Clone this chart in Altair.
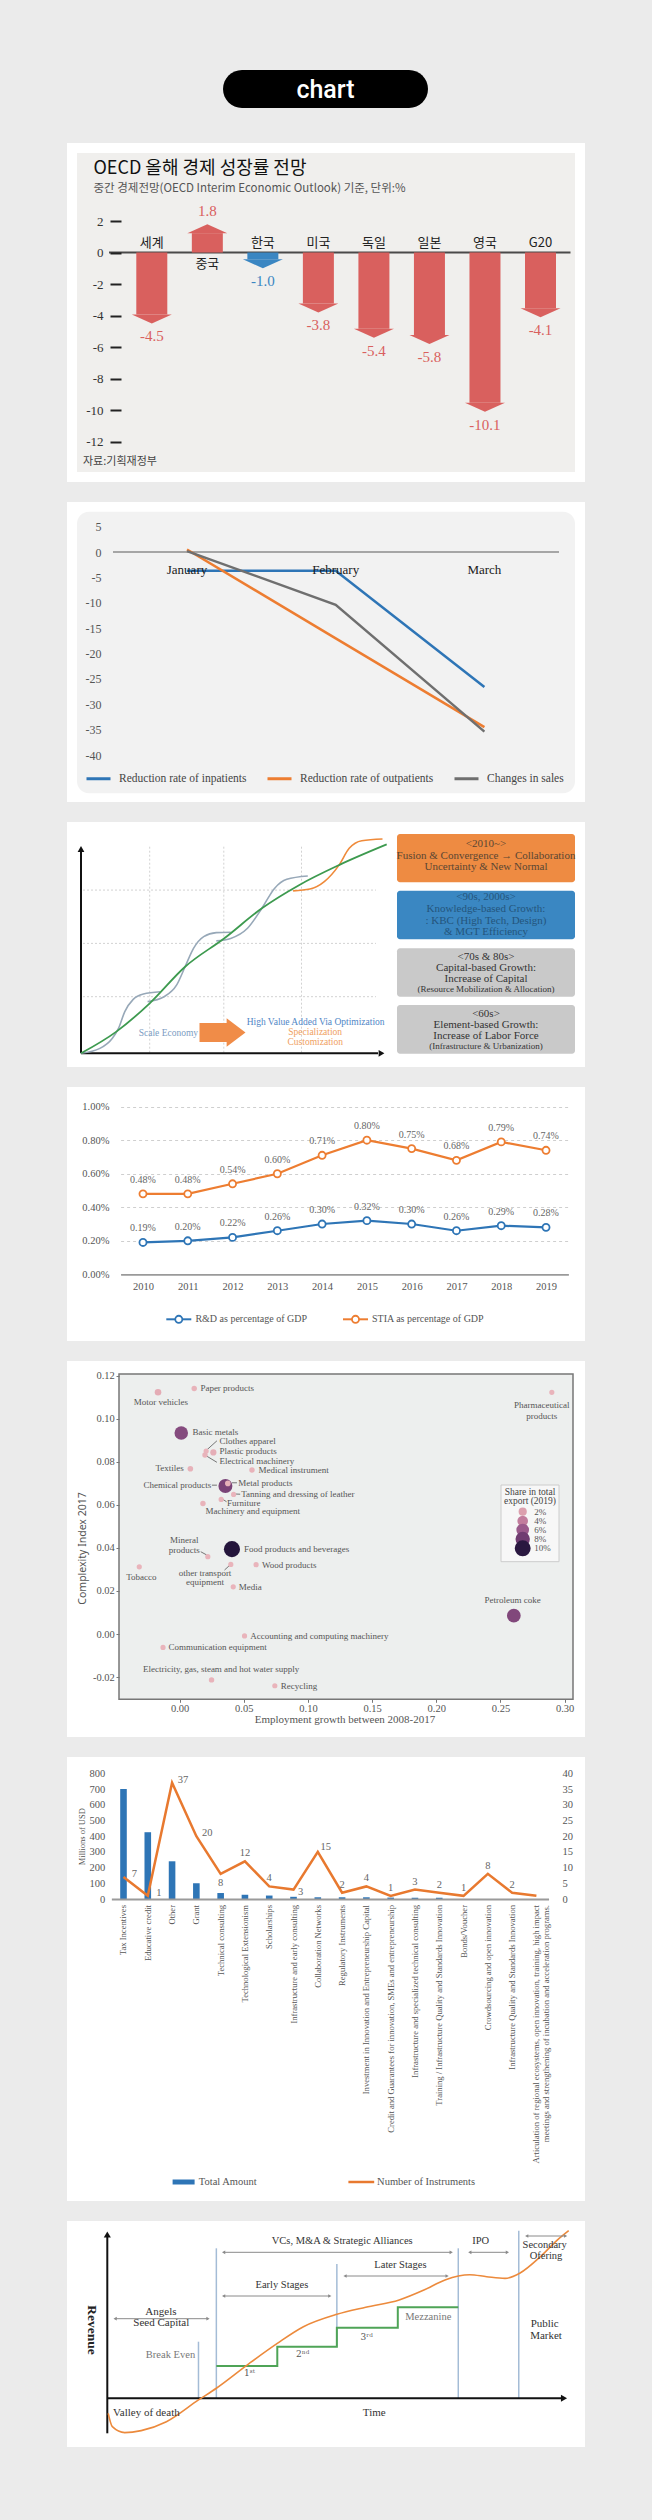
import altair as alt
import pandas as pd

# ---------------- data ----------------
# Panel 1: OECD growth outlook
p1_countries = ["세계", "중국", "한국", "미국", "독일", "일본", "영국", "G20"]
p1_growth = [-4.5, 1.8, -1.0, -3.8, -5.4, -5.8, -10.1, -4.1]
p1_ticks = [2, 0, -2, -4, -6, -8, -10, -12]

# Panel 2: hospital reductions
p2_months = ["January", "February", "March"]
p2_series = ["Reduction rate of inpatients", "Reduction rate of outpatients", "Changes in sales"]
p2_inpatients = [-3.7, -3.7, -26.6]
p2_outpatients = [0.5, -17.0, -34.5]
p2_sales = [0.2, -10.4, -35.4]
p2_ticks = [5, 0, -5, -10, -15, -20, -25, -30, -35, -40]

# Panel 3: growth paradigm diagram (notional 0-100 units)
p3_trend_x = [0, 11.8, 22.9, 34.7, 47.8, 60.3, 72.8, 86.0, 101.9]
p3_trend_y = [0, 10.5, 24.2, 41.9, 55.7, 70.2, 81.5, 91.1, 101.1]
p3_s1_x = [0, 6.3, 10.4, 12.5, 14.6, 17.4, 20.8, 26.4]
p3_s1_y = [0, 2.4, 7.2, 12.1, 20.2, 26.1, 28.7, 29.8]
p3_s2_x = [22.2, 27.7, 31.9, 34.7, 37.5, 40.9, 45.1, 49.9]
p3_s2_y = [25.0, 27.4, 33.1, 41.9, 50.8, 56.5, 58.4, 58.6]
p3_s3_x = [45.1, 49.9, 55.5, 60.3, 64.5, 68.6, 75.6]
p3_s3_y = [54.4, 55.6, 60.5, 70.2, 79.8, 84.2, 85.8]
p3_s4_x = [70.7, 76.3, 81.1, 86.0, 89.4, 93.6, 100.5]
p3_s4_y = [78.6, 79.5, 83.1, 91.1, 99.2, 102.9, 103.7]
p3_grid_x = [22.9, 47.6, 73.5]
p3_grid_y = [27.4, 53.2, 79.0]
p3_box_2010 = ["<2010~>", "Fusion & Convergence → Collaboration", "Uncertainty & New Normal"]
p3_box_90s = ["<90s, 2000s>", "Knowledge-based Growth:", ": KBC (High Tech, Design)", "& MGT Efficiency"]
p3_box_70s = ["<70s & 80s>", "Capital-based Growth:", "Increase of Capital", "(Resource Mobilization & Allocation)"]
p3_box_60s = ["<60s>", "Element-based Growth:", "Increase of Labor Force", "(Infrastructure & Urbanization)"]

# Panel 4: R&D / STIA
p4_years = [str(y) for y in range(2010, 2020)]
p4_series = ["R&D as percentage of GDP", "STIA as percentage of GDP"]
p4_rd = [0.19, 0.20, 0.22, 0.26, 0.30, 0.32, 0.30, 0.26, 0.29, 0.28]
p4_stia = [0.48, 0.48, 0.54, 0.60, 0.71, 0.80, 0.75, 0.68, 0.79, 0.74]
p4_ticks = [0, 0.2, 0.4, 0.6, 0.8, 1.0]

# Panel 5: complexity vs employment growth
p5_names = ["Motor vehicles", "Paper products", "Pharmaceutical products", "Basic metals",
            "Clothes apparel", "Plastic products", "Electrical machinery", "Textiles",
            "Medical instrument", "Chemical products", "Metal products",
            "Tanning and dressing of leather", "Furniture", "Machinery and equipment",
            "Mineral products", "Food products and beverages", "other transport equipment",
            "Wood products", "Tobacco", "Media", "Petroleum coke",
            "Accounting and computing machinery", "Communication equipment",
            "Electricity, gas, steam and hot water supply", "Recycling"]
p5_growth = [-0.0168, 0.0114, 0.290, 0.0013, 0.0207, 0.0263, 0.0198, 0.0084, 0.0564, 0.0357,
             0.0376, 0.0421, 0.0324, 0.0182, 0.0220, 0.0408, 0.0399, 0.0596, -0.0314, 0.0418,
             0.2604, 0.0506, -0.0129, 0.0249, 0.0742]
p5_complexity = [0.1122, 0.1140, 0.1122, 0.0933, 0.0849, 0.0843, 0.0831, 0.0767, 0.0761, 0.0687,
                 0.0699, 0.0648, 0.0625, 0.0606, 0.0359, 0.0394, 0.0323, 0.0322, 0.0312, 0.0219,
                 0.0085, -0.0009, -0.0062, -0.0213, -0.0240]
p5_share = [1.0, 0.4, 0.3, 7.0, 0.3, 0.8, 0.4, 0.5, 0.4, 7.5, 0.5, 0.3, 0.3, 0.4, 0.3, 10.2,
            0.3, 0.3, 0.3, 0.3, 7.2, 0.3, 0.3, 0.4, 0.3]
p5_lab_text = ["Motor vehicles", "Paper products", "Pharmaceutical", "products", "Basic metals",
               "Clothes apparel", "Plastic products", "Electrical machinery", "Textiles",
               "Medical instrument", "Chemical products", "Metal products",
               "Tanning and dressing of leather", "Furniture", "Machinery and equipment",
               "Mineral", "products", "Food products and beverages", "other transport",
               "equipment", "Wood products", "Tobacco", "Media", "Petroleum coke",
               "Accounting and computing machinery", "Communication equipment",
               "Electricity, gas, steam and hot water supply", "Recycling"]
p5_lab_x = [-0.0145, 0.0162, 0.2822, 0.2822, 0.0100, 0.0311, 0.0311, 0.0311, 0.0033, 0.0615,
            0.0246, 0.0457, 0.0480, 0.0369, 0.0570, 0.0036, 0.0036, 0.0502, 0.0198, 0.0198,
            0.0642, -0.0298, 0.0460, 0.2595, 0.0551, -0.0087, 0.0324, 0.0788]
p5_lab_y = [0.1078, 0.1140, 0.1063, 0.1013, 0.0937, 0.0897, 0.0848, 0.0801, 0.0770, 0.0761,
            0.0690, 0.0699, 0.0648, 0.0609, 0.0571, 0.0436, 0.0391, 0.0394, 0.0283, 0.0241,
            0.0322, 0.0266, 0.0219, 0.0158, -0.0008, -0.0062, -0.0161, -0.0240]
p5_lab_align = ["center", "left", "center", "center", "left", "left", "left", "left", "right",
                "left", "right", "left", "left", "left", "center", "center", "center", "left",
                "center", "center", "left", "center", "left", "center", "left", "left",
                "center", "left"]
p5_lead_x = [0.0211, 0.0211, 0.0252, 0.0408, 0.0324, 0.0165, 0.0350, 0.0430]
p5_lead_y = [0.0854, 0.0826, 0.0691, 0.0702, 0.0630, 0.0382, 0.0297, 0.0650]
p5_lead_x2 = [0.0291, 0.0291, 0.0291, 0.0447, 0.0366, 0.0211, 0.0392, 0.0472]
p5_lead_y2 = [0.0897, 0.0797, 0.0691, 0.0702, 0.0614, 0.0367, 0.0320, 0.0649]
p5_xticks = [0.0, 0.05, 0.10, 0.15, 0.20, 0.25, 0.30]
p5_yticks = [-0.02, 0.0, 0.02, 0.04, 0.06, 0.08, 0.10, 0.12]
p5_legend_values = [2, 4, 6, 8, 10]

# Panel 6: instruments
p6_instruments = ["Tax Incentives", "Educative credit", "Other", "Grant", "Technical consulting",
                  "Technological Extensionism", "Scholarships", "Infrastructure and early consulting",
                  "Collaboration Networks", "Regulatory Instruments",
                  "Investment in Innovation and Entrepreneurship Capital",
                  "Credit and Guarantees for innovation, SMEs and entrepreneurship",
                  "Infrastructure and specialized technical consulting",
                  "Training / Infrastructure Quality and Standards Innovation", "Bonds/Voucher",
                  "Crowdsourcing and open innovation", "Infrastructure Quality and Standards Innovation",
                  "Articulation of regional ecosystems, open innovation, training, high impact meetings and strengthening of incubation and acceleration programs."]
p6_amount = [700, 425, 240, 100, 38, 27, 22, 14, 11, 11, 11, 9, 8, 8, 0, 0, 0, 0]
p6_count = [7, 1, 37, 20, 8, 12, 4, 3, 15, 2, 4, 1, 3, 2, 1, 8, 2, 1]
p6_label_pos = ["r", "r", "r", "r", "b", "a", "a", "rb", "ra", "a", "a", "a", "a", "a", "a", "a", "a", "none"]
p6_left_ticks = list(range(0, 801, 100))
p6_right_ticks = list(range(0, 41, 5))

# Panel 7: funding stages diagram (notional 0-100 units)
p7_curve_x = [0.2, 1.1, 3.8, 7.4, 12.9, 19.9, 23.8, 31.0, 37.1, 42.8, 50.1, 56.4, 63.7, 69.1,
              73.7, 76.6, 79.1, 82.8, 86.8, 90.0, 94.5, 98.2, 100.7]
p7_curve_y = [-9.1, -17.2, -20.8, -19.6, -14.2, -1.0, 6.1, 21.2, 33.3, 43.4, 50.9, 55.2, 59.6,
              65.6, 71.7, 74.1, 74.9, 73.7, 72.7, 75.8, 85.8, 95.9, 101.6]
p7_step_x = [23.8, 37.1, 50.1, 63.4, 76.6]
p7_step_y = [19.6, 31.3, 42.8, 55.2, 55.2]
p7_vline_x = [19.9, 23.8, 50.1, 76.6, 89.8]
p7_vline_lo = [0, 0, 31.3, 0, 0]
p7_vline_hi = [34.3, 90.9, 81.4, 90.9, 101.6]

# ---------------- helpers ----------------
W = 518
SERIF = "Liberation Serif"
KR = "Noto Sans CJK KR"
SANS = "Noto Sans"
ONE = pd.DataFrame({"k": [0]})
CARD = alt.ViewBackground(fill="white", strokeWidth=0)


def box(x0, x1, y0, y1, fill, radius=0, stroke=None, sw=0):
    kw = dict(fill=fill, cornerRadius=radius, opacity=1)
    if stroke:
        kw.update(stroke=stroke, strokeWidth=sw)
    return alt.Chart(ONE).mark_rect(**kw).encode(
        x=alt.value(x0), x2=alt.value(x1), y=alt.value(y0), y2=alt.value(y1))


def txt(s, x, y, size=11, color="#333", font=SERIF, align="center", baseline="middle",
        weight="normal", angle=0):
    kw = dict(text=s, fontSize=size, color=color, font=font, align=align,
              baseline=baseline, fontWeight=weight)
    if angle:
        kw["angle"] = angle
    return alt.Chart(ONE).mark_text(**kw).encode(x=alt.value(x), y=alt.value(y))


def seg(x0, y0, x1, y1, color="#888", width=1.0):
    return alt.Chart(ONE).mark_rule(color=color, strokeWidth=width).encode(
        x=alt.value(x0), y=alt.value(y0), x2=alt.value(x1), y2=alt.value(y1))


def head(x, y, shape, size, color):
    return alt.Chart(ONE).mark_point(shape=shape, size=size, filled=True, color=color,
                                     opacity=1, strokeWidth=0).encode(
        x=alt.value(x), y=alt.value(y))


def darrow(x0, x1, y, color="#8a8a8a"):
    return [seg(x0 + 2, y, x1 - 2, y, color, 1),
            head(x0 + 2, y, "triangle-left", 14, color),
            head(x1 - 2, y, "triangle-right", 14, color)]


def lines_df(pairs):
    frames = []
    for cid, xs, ys in pairs:
        frames.append(pd.DataFrame({"x": xs, "y": ys, "c": cid, "i": list(range(len(xs)))}))
    return pd.concat(frames, ignore_index=True)


def panel(layers, height):
    return alt.layer(*layers).resolve_scale(x="independent", y="independent").properties(
        width=W, height=height, view=CARD)


# ---------------- header pill ----------------
pill = alt.layer(
    box(156, 361, 0, 38, "#000000", radius=19),
    txt("chart", 258.5, 19.5, size=25, color="white", font="Roboto", weight=500),
).properties(width=W, height=53, view=alt.ViewBackground(fill="#ebebeb", strokeWidth=0))

# ---------------- panel 1 ----------------
RED1, BLUE1 = "#d9605e", "#3a86c2"
HEAD1 = 0.571
df1 = pd.DataFrame({"country": p1_countries, "v": p1_growth})
df1["end"] = [v - HEAD1 if v > 0 else v + HEAD1 for v in p1_growth]
df1["dir"] = ["up" if v > 0 else "down" for v in p1_growth]
df1["grp"] = ["kr" if c == "한국" else "other" for c in p1_countries]
df1["lab"] = [f"{v:.1f}" for v in p1_growth]
x1 = alt.X("country:N", sort=p1_countries, axis=None,
           scale=alt.Scale(type="point", domain=p1_countries, range=[84.8, 473.5], padding=0))
y1s = alt.Scale(domain=[-12, 2], range=[298.7, 78], nice=False, zero=False)
c1 = alt.Color("grp:N", scale=alt.Scale(domain=["other", "kr"], range=[RED1, BLUE1]), legend=None)
ax1 = alt.Axis(orient="left", offset=-54, values=p1_ticks, domain=False, grid=False, ticks=True,
               tickSize=11, tickWidth=2, tickColor="#222", labelFont=SERIF, labelFontSize=13,
               labelColor="#333", labelPadding=7, title=None, zindex=1,
               labelExpr="'' + datum.value")
zero1 = alt.Chart(ONE).transform_calculate(z="0").mark_rule(color="#4a4a4a", strokeWidth=2).encode(
    y=alt.Y("z:Q", scale=y1s, axis=None), x=alt.value(42), x2=alt.value(503.5))
body1 = alt.Chart(df1).transform_calculate(z="0").mark_bar(size=31).encode(
    x=x1, y=alt.Y("end:Q", scale=y1s, axis=ax1), y2="z:Q", color=c1)
DOWN = "M-1,0L1,0L0,0.45Z"
UP = "M-1,0L1,0L0,-0.45Z"
heads1 = alt.Chart(df1).mark_point(filled=True, size=1600, opacity=1, strokeWidth=0).encode(
    x=x1, y=alt.Y("end:Q", scale=y1s, axis=None),
    shape=alt.Shape("dir:N", scale=alt.Scale(domain=["down", "up"], range=[DOWN, UP]), legend=None),
    color=c1)
vneg1 = alt.Chart(df1).transform_filter("datum.v < 0").mark_text(
    dy=13, font=SERIF, fontSize=15, baseline="middle").encode(
    x=x1, y=alt.Y("v:Q", scale=y1s, axis=None), text="lab:N", color=c1)
vpos1 = alt.Chart(df1).transform_filter("datum.v > 0").mark_text(
    dy=-13, font=SERIF, fontSize=15, baseline="middle").encode(
    x=x1, y=alt.Y("v:Q", scale=y1s, axis=None), text="lab:N", color=c1)
cneg1 = alt.Chart(df1).transform_filter("datum.v < 0").transform_calculate(z="0").mark_text(
    dy=-10, font=KR, fontSize=13, color="#222", baseline="middle").encode(
    x=x1, y=alt.Y("z:Q", scale=y1s, axis=None), text="country:N")
cpos1 = alt.Chart(df1).transform_filter("datum.v > 0").transform_calculate(z="0").mark_text(
    dy=11, font=KR, fontSize=13, color="#222", baseline="middle").encode(
    x=x1, y=alt.Y("z:Q", scale=y1s, axis=None), text="country:N")
p1 = panel([
    box(10, 508, 10, 329, "#f0efed"),
    zero1, body1, heads1, vneg1, vpos1, cneg1, cpos1,
    txt("OECD 올해 경제 성장률 전망", 26.5, 25.5, size=18, color="#111", font=KR, align="left"),
    txt("중간 경제전망(OECD Interim Economic Outlook) 기준, 단위:%", 26.5, 45.7, size=11.5,
        color="#555", font=KR, align="left"),
    txt("자료:기획재정부", 16, 318.7, size=11, color="#444", font=KR, align="left"),
], 339)

# ---------------- panel 2 ----------------
BLUE2, ORANGE2, GRAY2 = "#2e75b6", "#ed7d31", "#6f6f6f"
df2 = pd.DataFrame({
    "month": p2_months * 3,
    "series": [p2_series[0]] * 3 + [p2_series[1]] * 3 + [p2_series[2]] * 3,
    "v": p2_inpatients + p2_outpatients + p2_sales})
x2s = alt.Scale(type="point", domain=p2_months, range=[120, 417.4], padding=0)
y2s = alt.Scale(domain=[-40, 5], range=[253, 24.7], nice=False, zero=False)
ax2 = alt.Axis(orient="left", offset=-38, values=p2_ticks, domain=False, ticks=False, tickSize=0,
               grid=False, labelPadding=4, labelFont=SERIF, labelFontSize=12, labelColor="#555",
               labelExpr="'' + datum.value", title=None, zindex=1)
leg2 = alt.Legend(orient="none", legendX=18, legendY=263, direction="horizontal", title=None,
                  symbolType="stroke", symbolSize=576, symbolStrokeWidth=3, labelFont=SERIF,
                  labelFontSize=11.5, labelColor="#444", columnPadding=14, labelOffset=7, zindex=1)
zero2 = alt.Chart(ONE).transform_calculate(z="0").mark_rule(color="#8c8c8c", strokeWidth=1.5).encode(
    y=alt.Y("z:Q", scale=y2s, axis=None), x=alt.value(46), x2=alt.value(492))
lines2 = alt.Chart(df2).mark_line(strokeWidth=2.5).encode(
    x=alt.X("month:N", sort=p2_months, scale=x2s, axis=None),
    y=alt.Y("v:Q", scale=y2s, axis=ax2),
    color=alt.Color("series:N", sort=p2_series,
                    scale=alt.Scale(domain=p2_series, range=[BLUE2, ORANGE2, GRAY2]), legend=leg2))
months2 = alt.Chart(pd.DataFrame({"month": p2_months})).mark_text(
    font=SERIF, fontSize=13, color="#1a1a1a", baseline="middle").encode(
    x=alt.X("month:N", sort=p2_months, scale=x2s, axis=None), y=alt.value(68), text="month:N")
p2 = panel([
    box(10, 508, 9.7, 291.3, "#f2f2f2", radius=12),
    zero2, lines2, months2,
], 300)

# ---------------- panel 3 ----------------
x3s = alt.Scale(domain=[0, 100], range=[14, 314], nice=False, zero=False)
y3s = alt.Scale(domain=[0, 100], range=[231.3, 24.7], nice=False, zero=False)
X3 = alt.X("x:Q", scale=x3s, axis=None)
Y3 = alt.Y("y:Q", scale=y3s, axis=None)
gridv3 = alt.Chart(pd.DataFrame({"x": p3_grid_x})).mark_rule(
    color="#d2d2d2", strokeDash=[2, 2], strokeWidth=1).encode(x=X3, y=alt.value(24.7), y2=alt.value(231.3))
gridh3 = alt.Chart(pd.DataFrame({"y": p3_grid_y})).mark_rule(
    color="#d2d2d2", strokeDash=[2, 2], strokeWidth=1).encode(y=Y3, x=alt.value(16), x2=alt.value(309))
waves3 = alt.Chart(lines_df([("s1", p3_s1_x, p3_s1_y), ("s2", p3_s2_x, p3_s2_y),
                             ("s3", p3_s3_x, p3_s3_y)])).mark_line(
    color="#97a8b8", strokeWidth=1.6, interpolate="monotone").encode(
    x=X3, y=Y3, detail="c:N", order="i:Q")
orange3 = alt.Chart(lines_df([("s4", p3_s4_x, p3_s4_y)])).mark_line(
    color="#ef8a3a", strokeWidth=1.6, interpolate="monotone").encode(x=X3, y=Y3, order="i:Q")
green3 = alt.Chart(lines_df([("g", p3_trend_x, p3_trend_y)])).mark_line(
    color="#3d9a4f", strokeWidth=1.8, interpolate="monotone").encode(x=X3, y=Y3, order="i:Q")
ARROW = "M-1,-0.41L0.18,-0.41L0.18,-0.62L1,0L0.18,0.62L0.18,0.41L-1,0.41Z"
layers3 = [gridv3, gridh3,
           seg(14, 231.3, 14, 29, "#111", 2), head(14, 27, "triangle-up", 45, "#111"),
           seg(14, 231.3, 311, 231.3, "#111", 2), head(314.5, 231.3, "triangle-right", 45, "#111"),
           waves3, orange3, green3,
           head(155.5, 210.5, ARROW, 2116, "#f08c48"),
           txt("Scale Economy", 101.4, 210.7, 9.5, "#7b9cc2"),
           txt("High Value Added Via Optimization", 248.6, 200.3, 9.5, "#4f86c6"),
           txt("Specialization", 248.2, 210.3, 9.5, "#f0a060"),
           txt("Customization", 248.2, 220, 9.5, "#f0a060"),
           box(330, 508, 12, 60.3, "#ee8b42", radius=3),
           box(330, 508, 68.7, 117.3, "#3a87c2", radius=3),
           box(330, 508, 126.3, 174.7, "#c9c9c9", radius=3),
           box(330, 508, 183, 231.7, "#c9c9c9", radius=3)]
for s, yy in zip(p3_box_2010, [22.3, 33.7, 44.7]):
    layers3.append(txt(s, 419, yy, 11, "#5a4632"))
for s, yy in zip(p3_box_90s, [75.3, 87.3, 99, 109.7]):
    layers3.append(txt(s, 419, yy, 11, "#24557c"))
for s, yy, sz in zip(p3_box_70s, [134.7, 145.7, 157, 167], [11, 11, 11, 9]):
    layers3.append(txt(s, 419, yy, sz, "#333"))
for s, yy, sz in zip(p3_box_60s, [192, 203, 214, 223.7], [11, 11, 11, 9]):
    layers3.append(txt(s, 419, yy, sz, "#333"))
p3 = panel(layers3, 245)

# ---------------- panel 4 ----------------
BLUE4, ORANGE4 = "#2e75b6", "#ed7d31"
df4 = pd.DataFrame({"year": p4_years * 2,
                    "series": [p4_series[0]] * 10 + [p4_series[1]] * 10,
                    "v": p4_rd + p4_stia})
df4["lab"] = [f"{v:.2f}%" for v in df4["v"]]
x4s = alt.Scale(type="point", domain=p4_years, range=[53.6, 501.4], padding=0.5)
y4s = alt.Scale(domain=[0, 1.0], range=[187.3, 19.7], nice=False, zero=False)
ax4x = alt.Axis(orient="bottom", offset=-66.7, domainColor="#9a9a9a", domainWidth=1.8, ticks=False,
                tickSize=0, labelPadding=7, labelFont=SERIF, labelFontSize=10.5, labelColor="#555",
                title=None, grid=False, zindex=1, labelAngle=0)
ax4y = alt.Axis(orient="left", offset=-53.6, values=p4_ticks, grid=True, gridDash=[3, 3],
                gridColor="#cfcfcf", domain=False, ticks=False, tickSize=0, labelPadding=11.7,
                labelExpr="format(datum.value, '.2f') + '%'", labelFont=SERIF, labelFontSize=10.5,
                labelColor="#555", title=None)
c4 = alt.Scale(domain=p4_series, range=[BLUE4, ORANGE4])
lines4 = alt.Chart(df4).mark_line(strokeWidth=2.2).encode(
    x=alt.X("year:N", sort=p4_years, scale=x4s, axis=ax4x),
    y=alt.Y("v:Q", scale=y4s, axis=ax4y),
    color=alt.Color("series:N", scale=c4, legend=None))
pts4 = alt.Chart(df4).mark_point(filled=True, fill="white", size=50, strokeWidth=1.8, opacity=1).encode(
    x=alt.X("year:N", sort=p4_years, scale=x4s, axis=None),
    y=alt.Y("v:Q", scale=y4s, axis=None),
    stroke=alt.Stroke("series:N", scale=c4, legend=None))
labs4 = alt.Chart(df4).mark_text(dy=-14, font=SERIF, fontSize=10, color="#666").encode(
    x=alt.X("year:N", sort=p4_years, scale=x4s, axis=None),
    y=alt.Y("v:Q", scale=y4s, axis=None), text="lab:N")


def hollow(x, y, color):
    return alt.Chart(ONE).mark_point(filled=True, fill="white", stroke=color, strokeWidth=1.8,
                                     size=50, opacity=1).encode(x=alt.value(x), y=alt.value(y))


p4 = panel([
    lines4, pts4, labs4,
    seg(99.3, 232.3, 124.3, 232.3, BLUE4, 2), hollow(111.8, 232.3, BLUE4),
    txt(p4_series[0], 128.4, 232.3, 10, "#555", align="left"),
    seg(276, 232.3, 301, 232.3, ORANGE4, 2), hollow(288.5, 232.3, ORANGE4),
    txt(p4_series[1], 305, 232.3, 10, "#555", align="left"),
], 254)

# ---------------- panel 5 ----------------
x5s = alt.Scale(domain=[-0.0472, 0.3065], range=[52, 506], nice=False, zero=False)
y5s = alt.Scale(domain=[-0.0303, 0.1207], range=[338.3, 13], nice=False, zero=False)
size5 = alt.Scale(domain=[0, 10], range=[20, 254])
color5 = alt.Scale(domain=[0, 2, 4, 6, 8, 10],
                   range=["#ebb8bd", "#dca0ae", "#c27d9d", "#9a5a8b", "#703c71", "#2a1840"])
df5 = pd.DataFrame({"name": p5_names, "g": p5_growth, "c": p5_complexity, "share": p5_share})
lab5 = pd.DataFrame({"t": p5_lab_text, "g": p5_lab_x, "c": p5_lab_y, "al": p5_lab_align})
lead5 = pd.DataFrame({"g": p5_lead_x, "c": p5_lead_y, "g2": p5_lead_x2, "c2": p5_lead_y2})
ax5x = alt.Axis(orient="bottom", offset=-37.7, values=p5_xticks, format=".2f", domain=False,
                ticks=True, tickSize=3, tickColor="#777", grid=False, labelPadding=1,
                labelFont=SERIF, labelFontSize=10.5, labelColor="#555", title=None, zindex=1)
ax5y = alt.Axis(orient="left", offset=-52, values=p5_yticks, format=".2f", domain=False,
                ticks=True, tickSize=3, tickColor="#777", grid=False, labelPadding=1.7,
                labelExpr="replace(datum.label, '\u2212', '-')",
                labelFont=SERIF, labelFontSize=10.5, labelColor="#555", title=None, zindex=1)
pts5 = alt.Chart(df5).mark_circle(opacity=1).encode(
    x=alt.X("g:Q", scale=x5s, axis=ax5x),
    y=alt.Y("c:Q", scale=y5s, axis=ax5y),
    size=alt.Size("share:Q", scale=size5, legend=None),
    color=alt.Color("share:Q", scale=color5, legend=None),
    order=alt.Order("share:Q", sort="descending"))
leads5 = alt.Chart(lead5).mark_rule(color="#555", strokeWidth=0.8).encode(
    x=alt.X("g:Q", scale=x5s, axis=None), y=alt.Y("c:Q", scale=y5s, axis=None),
    x2="g2:Q", y2="c2:Q")
labels5 = []
for al in ["left", "right", "center"]:
    labels5.append(alt.Chart(lab5).transform_filter(f"datum.al == '{al}'").mark_text(
        align=al, baseline="middle", font=SERIF, fontSize=9, color="#555").encode(
        x=alt.X("g:Q", scale=x5s, axis=None), y=alt.Y("c:Q", scale=y5s, axis=None), text="t:N"))
legend5 = [box(434, 492, 124, 200.7, "#f7f7f7", stroke="#cccccc", sw=1),
           txt("Share in total", 463, 131.3, 9.5, "#444"),
           txt("export (2019)", 463, 140.3, 9.5, "#444")]
for v, yy in zip(p5_legend_values, [150.7, 160, 169, 178, 187.3]):
    legend5.append(alt.Chart(pd.DataFrame({"share": [v]})).mark_circle(opacity=1).encode(
        x=alt.value(455.7), y=alt.value(yy),
        size=alt.Size("share:Q", scale=size5, legend=None),
        color=alt.Color("share:Q", scale=color5, legend=None)))
    legend5.append(txt(f"{v}%", 467.3, yy, 9, "#555", align="left"))
p5 = panel([
    box(52, 506, 13, 338.3, "#edefee", stroke="#777777", sw=1.5),
    leads5, pts5, *labels5, *legend5,
    txt("Employment growth between 2008-2017", 278, 359, 11, "#555"),
    txt("Complexity Index 2017", 16, 187.5, 10.5, "#555", font=SANS, angle=270),
], 376)

# ---------------- panel 6 ----------------
BLUE6, ORANGE6 = "#2e75b6", "#e8792f"
df6 = pd.DataFrame({"inst": p6_instruments, "amount": p6_amount, "n": p6_count, "pos": p6_label_pos})
x6s = alt.Scale(type="point", domain=p6_instruments, range=[44.35, 481.55], padding=0.5)
y6L = alt.Scale(domain=[0, 800], range=[142, 16.3], nice=False, zero=False)
y6R = alt.Scale(domain=[0, 40], range=[142, 16.3], nice=False, zero=False)
ax6x = alt.Axis(orient="bottom", offset=-302, domainColor="#9a9a9a", domainWidth=2, ticks=False,
                tickSize=0, labels=False, title=None, grid=False, zindex=1)
ax6l = alt.Axis(orient="left", offset=-41.8, values=p6_left_ticks, domain=False, ticks=False,
                tickSize=0, grid=False, labelPadding=4, labelFont=SERIF, labelFontSize=10.5,
                labelColor="#555", title=None, zindex=1)
ax6r = alt.Axis(orient="right", offset=-27, values=p6_right_ticks, domain=False, ticks=False,
                tickSize=0, grid=False, labelPadding=4, labelFont=SERIF, labelFontSize=10.5,
                labelColor="#555", title=None, zindex=1)
X6 = alt.X("inst:N", sort=p6_instruments, scale=x6s, axis=None)
bars6 = alt.Chart(df6).mark_bar(size=6.6, color=BLUE6).encode(
    x=alt.X("inst:N", sort=p6_instruments, scale=x6s, axis=ax6x),
    y=alt.Y("amount:Q", scale=y6L, axis=ax6l))
line6 = alt.Chart(df6).mark_line(color=ORANGE6, strokeWidth=2.5).encode(
    x=X6, y=alt.Y("n:Q", scale=y6R, axis=ax6r))
offs6 = {"r": (11, -3), "a": (0, -8), "b": (0, 9), "rb": (7, 2), "ra": (8, -5)}
labels6 = []
for k, (ddx, ddy) in offs6.items():
    labels6.append(alt.Chart(df6).transform_filter(f"datum.pos == '{k}'").mark_text(
        dx=ddx, dy=ddy, font=SERIF, fontSize=10.5, color="#666", baseline="middle").encode(
        x=X6, y=alt.Y("n:Q", scale=y6R, axis=None), text="n:Q"))
xlab6 = alt.Chart(df6).transform_calculate(
    t="indexof(datum.inst, ' meetings') > 0 ? [substring(datum.inst, 0, indexof(datum.inst, ' meetings')), substring(datum.inst, indexof(datum.inst, ' meetings') + 1)] : datum.inst"
).mark_text(angle=270, align="right", baseline="middle", font=SERIF, fontSize=8.6,
            color="#555", lineHeight=9.5).encode(x=X6, y=alt.value(148), text="t:N")
p6 = panel([
    bars6, line6, *labels6, xlab6,
    txt("Millions of USD", 14.9, 79.7, 8.5, "#555", angle=270),
    box(105.6, 127.6, 422.5, 427.5, BLUE6),
    txt("Total Amount", 131.8, 425, 10.5, "#555", align="left"),
    seg(281.4, 425, 307.2, 425, ORANGE6, 2.5),
    txt("Number of Instruments", 310.1, 425, 10.5, "#555", align="left"),
], 444)

# ---------------- panel 7 ----------------
x7s = alt.Scale(domain=[0, 100], range=[40.3, 498.5], nice=False, zero=False)
y7s = alt.Scale(domain=[0, 100], range=[177.3, 12.3], nice=False, zero=False)
X7 = alt.X("x:Q", scale=x7s, axis=None)
Y7 = alt.Y("y:Q", scale=y7s, axis=None)
vl7 = alt.Chart(pd.DataFrame({"x": p7_vline_x, "y": p7_vline_lo, "y2": p7_vline_hi})).mark_rule(
    color="#a4bcd6", strokeWidth=1.5).encode(x=X7, y=Y7, y2="y2:Q")
step7 = alt.Chart(lines_df([("st", p7_step_x, p7_step_y)])).mark_line(
    color="#4fa457", strokeWidth=2, interpolate="step-after").encode(x=X7, y=Y7, order="i:Q")
curve7 = alt.Chart(lines_df([("cv", p7_curve_x, p7_curve_y)])).mark_line(
    color="#ec8a3c", strokeWidth=1.6, interpolate="monotone").encode(x=X7, y=Y7, order="i:Q")
layers7 = [vl7, step7,
           seg(40.3, 212.3, 40.3, 16, "#111", 2), head(40.3, 13.5, "triangle-up", 50, "#111"),
           seg(40.3, 177.3, 494, 177.3, "#111", 2), head(497, 177.3, "triangle-right", 50, "#111"),
           curve7]
layers7 += darrow(46.1, 143, 97.7) + darrow(154.6, 386.2, 31.3) + darrow(400.8, 442.4, 31.3)
layers7 += darrow(457.7, 500.6, 15) + darrow(154.6, 264.8, 75) + darrow(276, 382.1, 55)
layers7 += [
    txt("Angels", 93.9, 91.3, 11, "#333"),
    txt("Seed Capital", 94.3, 102.3, 11, "#333"),
    txt("Break Even", 103.5, 134.3, 10.5, "#777"),
    txt("VCs, M&A & Strategic Alliances", 275.2, 20.3, 10.5, "#333"),
    txt("IPO", 413.7, 20.3, 10.5, "#333"),
    txt("Secondary", 477.7, 24, 10.5, "#333"),
    txt("Ofering", 479, 35, 10.5, "#333"),
    txt("Early Stages", 214.9, 64, 10.5, "#333"),
    txt("Later Stages", 333.4, 44, 10.5, "#333"),
    txt("Mezzanine", 361.3, 96.3, 10.5, "#777"),
    txt("1ˢᵗ", 182.5, 152.3, 9, "#555", font="DejaVu Serif"),
    txt("2ⁿᵈ", 235.7, 133, 9, "#555", font="DejaVu Serif"),
    txt("3ʳᵈ", 299.7, 115.7, 9, "#555", font="DejaVu Serif"),
    txt("Public", 477.7, 103.3, 11, "#333"),
    txt("Market", 479, 114.7, 11, "#333"),
    txt("Time", 307.2, 191.7, 11, "#333"),
    txt("Valley of death", 46.1, 191.7, 11, "#333", align="left"),
    txt("Revenue", 25.3, 109, 13.5, "#222", weight="bold", angle=90),
]
p7 = panel(layers7, 226)

# ---------------- assemble ----------------
chart = alt.vconcat(pill, p1, p2, p3, p4, p5, p6, p7, spacing=20).resolve_scale(
    color="independent", size="independent", shape="independent", stroke="independent"
).properties(
    background="#ebebeb",
    padding={"left": 67, "top": 70, "right": 67, "bottom": 73},
).configure_view(strokeWidth=0)

chart.save("out.html", embed_options={"renderer": "svg", "actions": False})
